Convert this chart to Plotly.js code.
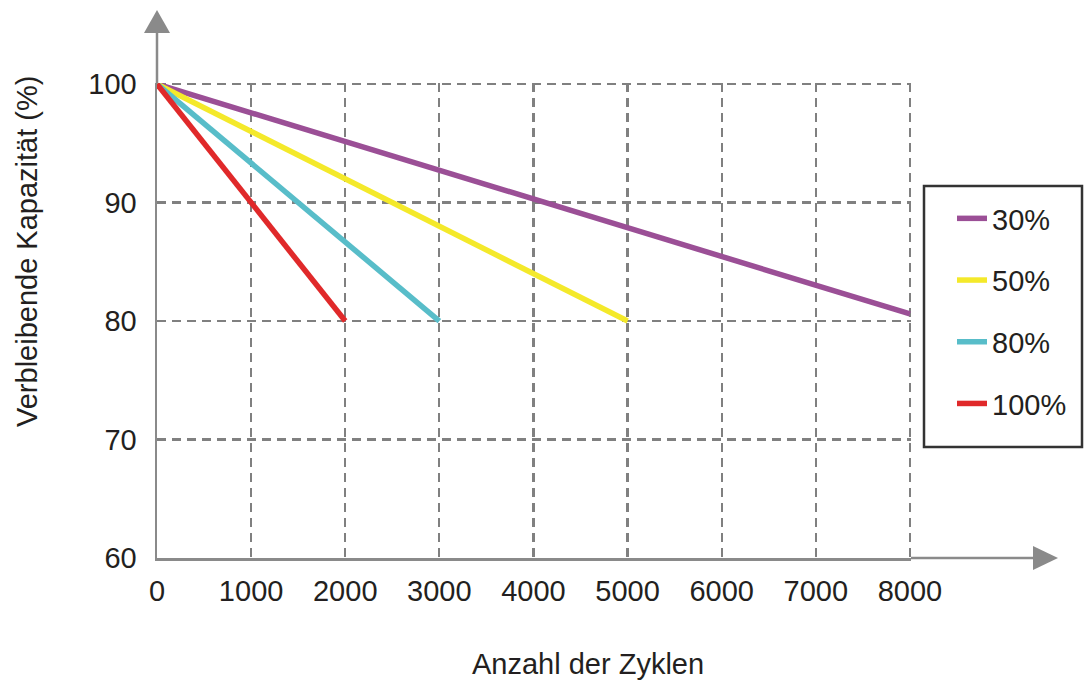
<!DOCTYPE html>
<html>
<head>
<meta charset="utf-8">
<script src="https://cdn.plot.ly/plotly-3.0.1.min.js"></script>
<style>
html,body{margin:0;padding:0;background:#fff;}
#chart{width:1086px;height:681px;}
</style>
</head>
<body>
<div id="chart"></div>
<script>
// Data
var seriesNames = ["30%", "50%", "80%", "100%"];
var seriesColors = ["#9b4f96", "#f4e92a", "#58bdc9", "#e0292a"];
var cycles30 = [0, 8000];
var capacity30 = [100, 80.6];
var cycles50 = [0, 5000];
var capacity50 = [100, 80];
var cycles80 = [0, 3000];
var capacity80 = [100, 80];
var cycles100 = [0, 2000];
var capacity100 = [100, 80];
var xTickVals = [0, 1000, 2000, 3000, 4000, 5000, 6000, 7000, 8000];
var yTickVals = [60, 70, 80, 90, 100];
var xTitle = "Anzahl der Zyklen";
var yTitle = "Verbleibende Kapazität (%)";

var xs = [cycles30, cycles50, cycles80, cycles100];
var ys = [capacity30, capacity50, capacity80, capacity100];

var FONT = "Arial, 'Liberation Sans', sans-serif";
var traces = seriesNames.map(function (n, i) {
  return {
    x: xs[i], y: ys[i], name: n, type: "scatter", mode: "lines",
    legendgroup: "g" + i,
    line: {color: seriesColors[i], width: 5.5},
    hoverinfo: "x+y+name"
  };
});

// plot area pixels: x 157..911, y 83..558
var W = 754, H = 475;
function px(p) { return (p - 157) / W; }
function py(p) { return (558 - p) / H; }

var axisGray = "#8a8a8a";
var gridGray = "#808080";
var shapes = [
  // y-axis extension + arrow
  {type: "line", xref: "paper", yref: "paper", x0: 0, x1: 0, y0: 1, y1: py(32),
   line: {color: axisGray, width: 2.5}},
  {type: "path", xref: "paper", yref: "paper",
   path: "M " + px(144) + " " + py(33) + " L " + px(170) + " " + py(33) + " L " + px(157) + " " + py(10) + " Z",
   fillcolor: axisGray, line: {color: axisGray, width: 0}},
  // x-axis extension + arrow
  {type: "line", xref: "paper", yref: "paper", x0: 1, x1: px(1034), y0: 0, y1: 0,
   line: {color: axisGray, width: 2.5}},
  {type: "path", xref: "paper", yref: "paper",
   path: "M " + px(1033) + " " + py(546) + " L " + px(1033) + " " + py(570) + " L " + px(1058) + " " + py(558) + " Z",
   fillcolor: axisGray, line: {color: axisGray, width: 0}},
  // legend frame
  {type: "rect", xref: "paper", yref: "paper", x0: px(924), x1: px(1082), y0: py(186), y1: py(447),
   fillcolor: "rgba(0,0,0,0)", line: {color: "#333333", width: 2.5}}
];

var layout = {
  width: 1086, height: 681,
  margin: {l: 157, r: 175, t: 83, b: 123, pad: 0, autoexpand: false},
  paper_bgcolor: "#ffffff", plot_bgcolor: "#ffffff",
  font: {family: FONT, size: 29, color: "#231f20"},
  showlegend: true,
  xaxis: {
    range: [0, 8011], tickvals: xTickVals, ticks: "", ticklabelstandoff: 6,
    showgrid: true, gridcolor: gridGray, gridwidth: 2.2, griddash: "9px,6px",
    zeroline: false, showline: true, linecolor: axisGray, linewidth: 2.5,
    tickfont: {family: FONT, size: 29, color: "#231f20"}, fixedrange: true
  },
  yaxis: {
    range: [60, 100.09], tickvals: yTickVals, ticks: "", ticklabelstandoff: 12,
    showgrid: true, gridcolor: gridGray, gridwidth: 2.2, griddash: "9px,6px",
    zeroline: false, showline: true, linecolor: axisGray, linewidth: 2.5,
    tickfont: {family: FONT, size: 29, color: "#231f20"}, fixedrange: true
  },
  legend: {
    x: px(952), y: py(193), xanchor: "left", yanchor: "top",
    borderwidth: 0, bgcolor: "rgba(0,0,0,0)",
    font: {family: FONT, size: 29, color: "#231f20"},
    tracegroupgap: 21, traceorder: "grouped"
  },
  shapes: shapes,
  annotations: [
    {text: yTitle, xref: "paper", yref: "paper", x: px(27), y: py(252),
     xanchor: "center", yanchor: "middle", textangle: -90, showarrow: false,
     font: {family: FONT, size: 29, color: "#231f20"}},
    {text: xTitle, xref: "paper", yref: "paper", x: px(588), y: py(664),
     xanchor: "center", yanchor: "middle", showarrow: false,
     font: {family: FONT, size: 29, color: "#231f20"}}
  ]
};

Plotly.newPlot("chart", traces, layout, {displayModeBar: false, staticPlot: true});
</script>
</body>
</html>
